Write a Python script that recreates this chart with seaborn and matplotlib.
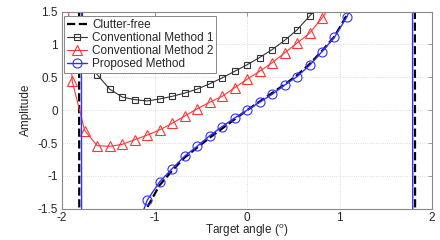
import matplotlib

matplotlib.use("Agg")
import matplotlib.pyplot as plt
import seaborn as sns
from matplotlib.ticker import FuncFormatter

# values (grid step 0.135 deg, off-chart points make the asymptotes)
clutter_x = [-2.0, -1.83, -1.80, -1.5, -1.215, -1.08, -0.945, -0.81, -0.675, -0.54, -0.405,
             -0.27, -0.135, 0.0, 0.135, 0.27, 0.405, 0.54, 0.675, 0.81, 0.945, 1.08, 1.215,
             1.5, 1.80, 1.83, 2.0]
clutter_y = [5, 20, -20, -5, -2.2, -1.48, -1.14, -0.92, -0.72, -0.57, -0.42,
             -0.28, -0.14, 0.0, 0.13, 0.26, 0.39, 0.53, 0.70, 0.90, 1.12, 1.45, 2.2,
             5, 20, -20, -5]

conv1_x = [-1.85, -1.755, -1.62, -1.485, -1.35, -1.215, -1.08, -0.945, -0.81, -0.675, -0.54,
           -0.405, -0.27, -0.135, 0.0, 0.135, 0.27, 0.405, 0.54, 0.675, 0.81]
conv1_y = [3.0, 0.95, 0.54, 0.32, 0.20, 0.16, 0.14, 0.17, 0.21, 0.26, 0.32,
           0.40, 0.49, 0.59, 0.69, 0.80, 0.92, 1.06, 1.22, 1.43, 1.62]

conv2_x = [-2.0, -1.89, -1.755, -1.62, -1.485, -1.35, -1.215, -1.08, -0.945, -0.81, -0.675,
           -0.54, -0.405, -0.27, -0.135, 0.0, 0.135, 0.27, 0.405, 0.54, 0.675, 0.81, 0.945]
conv2_y = [3.35, 0.44, -0.31, -0.54, -0.55, -0.52, -0.45, -0.38, -0.30, -0.20, -0.09,
           0.02, 0.12, 0.21, 0.34, 0.47, 0.59, 0.72, 0.87, 1.02, 1.17, 1.40, 1.65]

prop_x = [-2.0, -1.805, -1.775, -1.5, -1.215, -1.08, -0.945, -0.81, -0.675, -0.54, -0.405,
          -0.27, -0.135, 0.0, 0.135, 0.27, 0.405, 0.54, 0.675, 0.81, 0.945, 1.08, 1.215,
          1.5, 1.775, 1.805, 2.0]
prop_y = [5, 20, -20, -4, -1.9, -1.37, -1.09, -0.89, -0.70, -0.55, -0.39,
          -0.25, -0.12, 0.0, 0.12, 0.24, 0.38, 0.51, 0.68, 0.89, 1.11, 1.42, 1.9,
          4, 20, -20, -5]

labels = ["Clutter-free", "Conventional Method 1", "Conventional Method 2", "Proposed Method"]
x_ticks = [-2, -1, 0, 1, 2]
y_ticks = [-1.5, -1, -0.5, 0, 0.5, 1, 1.5]

sns.set_style("white")
plt.rcParams["font.family"] = ["Liberation Sans", "DejaVu Sans"]
plt.rcParams["font.size"] = 8
plt.rcParams["axes.unicode_minus"] = False
plt.rcParams["mathtext.fontset"] = "custom"
plt.rcParams["mathtext.rm"] = "Liberation Sans"

fig, ax = plt.subplots(figsize=(4.4, 2.4), dpi=100)
fig.subplots_adjust(left=0.141, right=0.982, top=0.952, bottom=0.13)

sns.lineplot(x=clutter_x, y=clutter_y, sort=False, estimator=None, ax=ax,
             color="black", linestyle="--", linewidth=1.6, label=labels[0])
sns.lineplot(x=conv1_x, y=conv1_y, sort=False, estimator=None, ax=ax,
             color="#333333", linewidth=0.8, marker="s", markersize=5,
             markerfacecolor="none", markeredgecolor="#333333", markeredgewidth=0.8,
             markevery=list(range(1, len(conv1_x))), label=labels[1])
sns.lineplot(x=conv2_x, y=conv2_y, sort=False, estimator=None, ax=ax,
             color="#ff3535", linewidth=0.8, marker="^", markersize=6.5,
             markerfacecolor="none", markeredgecolor="#ff3535", markeredgewidth=0.8,
             markevery=list(range(1, len(conv2_x))), label=labels[2])
sns.lineplot(x=prop_x, y=prop_y, sort=False, estimator=None, ax=ax,
             color="#3030ff", linewidth=1.0, marker="o", markersize=6.5,
             markerfacecolor="none", markeredgecolor="#3030ff", markeredgewidth=0.8,
             markevery=list(range(4, 23)), label=labels[3])

ax.set_xlim(-2, 2)
ax.set_ylim(-1.5, 1.5)
ax.set_xticks(x_ticks)
ax.set_yticks(y_ticks)
fmt = FuncFormatter(lambda v, p: f"{v:g}")
ax.xaxis.set_major_formatter(fmt)
ax.yaxis.set_major_formatter(fmt)
ax.grid(True, linestyle=":", color="#d0d0d0", linewidth=0.6)
ax.tick_params(direction="in", length=3, width=0.6, top=True, right=True,
               colors="#888888", labelcolor="#262626", labelsize=8.5, pad=3)
ax.tick_params(axis="x", pad=2)
for s in ax.spines.values():
    s.set_color("#888888")
    s.set_linewidth(0.8)

ax.set_xlabel(r"Target angle ($^\mathrm{o}$)", fontsize=8.5, color="#262626", labelpad=-1)
ax.set_ylabel("Amplitude", fontsize=8.5, color="#262626", labelpad=4)

leg = ax.legend(loc="upper left", bbox_to_anchor=(0.006, 0.978), fontsize=8.5,
                frameon=True, fancybox=False, framealpha=1, edgecolor="#888888",
                handlelength=1.7, handletextpad=0.4, labelspacing=0.08,
                borderpad=0.25, borderaxespad=0)
leg.get_frame().set_linewidth(0.7)

fig.savefig("out.png", dpi=100)
